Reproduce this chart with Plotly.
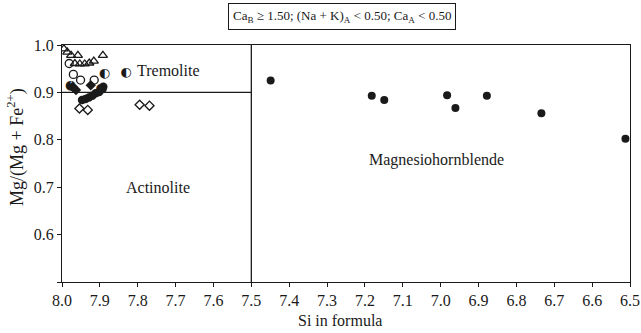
import plotly.graph_objects as go

# ---- data ----
ext_si = [7.449, 7.182, 7.149, 6.983, 6.961, 6.878, 6.734, 6.512]
ext_mg = [0.925, 0.893, 0.884, 0.894, 0.867, 0.893, 0.856, 0.802]

tri_si = [7.995, 7.986, 7.976, 7.958, 7.966, 7.953, 7.940, 7.928, 7.916, 7.892]
tri_mg = [0.992, 0.985, 0.978, 0.978, 0.961, 0.960, 0.960, 0.962, 0.966, 0.978]

oc_si = [7.981, 7.970, 7.951, 7.915]
oc_mg = [0.961, 0.938, 0.926, 0.926]

half_si = [7.888, 7.831, 7.978, 7.897]
half_mg = [0.940, 0.942, 0.913, 0.907]

fc_si = [7.947, 7.938, 7.929, 7.920, 7.911, 7.902, 7.893, 7.891]
fc_mg = [0.884, 0.886, 0.889, 0.893, 0.898, 0.901, 0.907, 0.912]

fd_si = [7.972, 7.963, 7.924]
fd_mg = [0.912, 0.905, 0.915]

od_si = [7.954, 7.932, 7.795, 7.769]
od_mg = [0.866, 0.863, 0.874, 0.872]

x_ticks = [8.0, 7.9, 7.8, 7.7, 7.6, 7.5, 7.4, 7.3, 7.2, 7.1, 7.0, 6.9, 6.8, 6.7, 6.6, 6.5]
y_ticks = [0.5, 0.6, 0.7, 0.8, 0.9, 1.0]
y_ticktext = ["", "0.6", "0.7", "0.8", "0.9", "1.0"]

FONT = "Liberation Serif"
INK = "#1a1a1a"

fig = go.Figure()

# boundary lines
fig.add_trace(go.Scatter(x=[8.0, 7.5], y=[0.9, 0.9], mode="lines",
                         line=dict(color=INK, width=1.3), hoverinfo="skip"))
fig.add_trace(go.Scatter(x=[7.5, 7.5], y=[0.5, 1.0], mode="lines",
                         line=dict(color=INK, width=1.3), hoverinfo="skip"))

fig.add_trace(go.Scatter(x=od_si, y=od_mg, mode="markers",
                         marker=dict(symbol="diamond-open", size=7, color=INK, line=dict(width=1.3))))
fig.add_trace(go.Scatter(x=tri_si, y=tri_mg, mode="markers",
                         marker=dict(symbol="triangle-up-open", size=8, color=INK, line=dict(width=1.3))))
fig.add_trace(go.Scatter(x=oc_si, y=oc_mg, mode="markers",
                         marker=dict(symbol="circle-open", size=8, color=INK, line=dict(width=1.3))))
fig.add_trace(go.Scatter(x=fc_si, y=fc_mg, mode="markers",
                         marker=dict(symbol="circle", size=8.5, color=INK)))
fig.add_trace(go.Scatter(x=fd_si, y=fd_mg, mode="markers",
                         marker=dict(symbol="diamond", size=8, color=INK)))
fig.add_trace(go.Scatter(x=half_si, y=half_mg, mode="text", text=["◐"] * len(half_si),
                         textposition="middle center",
                         textfont=dict(family="DejaVu Sans", size=13, color=INK)))
fig.add_trace(go.Scatter(x=ext_si, y=ext_mg, mode="markers",
                         marker=dict(symbol="circle", size=8, color=INK)))

ann_font = dict(family=FONT, size=16, color=INK)
fig.add_annotation(x=7.72, y=0.947, text="Tremolite", showarrow=False, font=ann_font)
fig.add_annotation(x=7.746, y=0.70, text="Actinolite", showarrow=False, font=ann_font)
fig.add_annotation(x=7.01, y=0.757, text="Magnesiohornblende", showarrow=False, font=ann_font)
fig.add_annotation(xref="paper", yref="paper", x=0.493, y=1.0, yshift=29, yanchor="middle",
                   text="Ca<sub>B</sub> ≥ 1.50; (Na + K)<sub>A</sub> < 0.50; Ca<sub>A</sub> < 0.50",
                   showarrow=False, font=dict(family=FONT, size=13, color=INK),
                   bordercolor=INK, borderwidth=1, borderpad=4, bgcolor="white")
# axis titles
fig.add_annotation(xref="paper", yref="paper", x=0.489, y=0, yshift=-38, yanchor="middle",
                   text="Si in formula", showarrow=False, font=ann_font)
fig.add_annotation(xref="paper", yref="paper", x=0, xshift=-46, y=0.57, yanchor="middle",
                   xanchor="center", textangle=-90,
                   text="Mg/(Mg + Fe<sup>2+</sup>)", showarrow=False,
                   font=dict(family=FONT, size=18, color=INK))

axis_common = dict(showgrid=False, zeroline=False, showline=True, linecolor=INK, linewidth=1.3,
                   mirror=True, ticks="outside", ticklen=4, tickcolor=INK, automargin=False,
                   tickfont=dict(family=FONT, size=16, color=INK))

fig.update_layout(
    width=641, height=333,
    margin=dict(l=62, r=11, t=45, b=51),
    paper_bgcolor="white", plot_bgcolor="white",
    showlegend=False,
    font=dict(family=FONT, size=16, color=INK),
    xaxis=dict(range=[8.0, 6.5], tickvals=x_ticks, tickformat=".1f", **axis_common),
    yaxis=dict(range=[0.5, 1.0], tickvals=y_ticks, ticktext=y_ticktext, **axis_common),
)

fig.write_html("out.html", config={"displayModeBar": False},
               post_script="document.body.style.margin='0';document.body.style.overflow='hidden';")
